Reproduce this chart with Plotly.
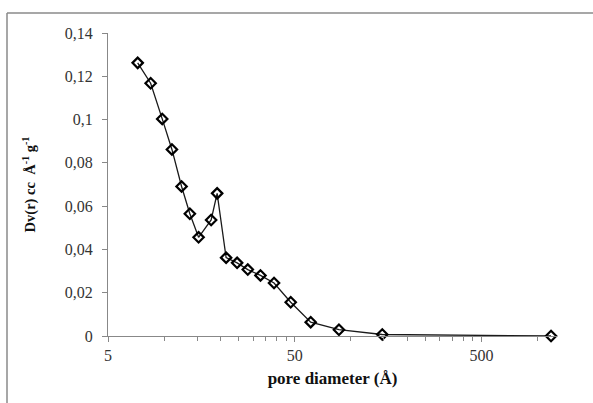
import numpy as np
import plotly.graph_objects as go

pore_diameter = [7.21, 8.46, 9.76, 11.0, 12.39, 13.72, 15.28, 17.84, 19.21, 21.46,
                 24.57, 28.03, 32.78, 38.75, 47.6, 60.9, 86.3, 147.2, 1180]
dv = [0.1262, 0.1168, 0.1003, 0.0862, 0.0691, 0.0565, 0.0456, 0.0536, 0.0659, 0.0362,
      0.0338, 0.0307, 0.0280, 0.0245, 0.0156, 0.0064, 0.0029, 0.0007, 0.0]

y_tickvals = [0, 0.02, 0.04, 0.06, 0.08, 0.1, 0.12, 0.14]
y_ticktext = ["0", "0,02", "0,04", "0,06", "0,08", "0,1", "0,12", "0,14"]
x_tickvals = [5, 50, 500]
x_ticktext = ["5", "50", "500"]
x_minor = [5 * k * 10 ** n for n in range(0, 3) for k in range(2, 10)]

W, H = 593, 403
ML, MR, MT, MB = 108, 36, 33, 67
SERIF = "Liberation Serif"

fig = go.Figure()
fig.add_trace(go.Scatter(
    x=pore_diameter, y=dv, mode="lines+markers",
    line=dict(color="#1a1a1a", width=1.3),
    marker=dict(symbol="diamond-open", size=8, color="black", line=dict(width=2.2, color="black")),
    showlegend=False, cliponaxis=False,
))

fig.update_layout(
    width=W, height=H,
    margin=dict(l=ML, r=MR, t=MT, b=MB, autoexpand=False),
    paper_bgcolor="white", plot_bgcolor="white",
    font=dict(family=SERIF, size=16, color="#222"),
    xaxis=dict(
        type="log", range=[np.log10(5), np.log10(1270)], automargin=False,
        tickmode="array", tickvals=x_tickvals, ticktext=x_ticktext,
        ticks="outside", ticklen=5, tickcolor="#888", tickwidth=1,
        minor=dict(tickmode="array", tickvals=x_minor, ticks="outside", ticklen=4,
                   tickcolor="#888", tickwidth=1, showgrid=False),
        showline=True, linecolor="#888", linewidth=1.3, showgrid=False, zeroline=False,
        title=dict(text="<b>pore diameter (Å)</b>", font=dict(family=SERIF, size=17, color="#111"), standoff=8),
        tickfont=dict(family=SERIF, size=16, color="#333"),
    ),
    yaxis=dict(
        range=[0, 0.14], automargin=False,
        tickmode="array", tickvals=y_tickvals, ticktext=y_ticktext,
        ticks="outside", ticklen=5, tickcolor="#888", tickwidth=1, ticklabelstandoff=6,
        showline=True, linecolor="#888", linewidth=1.3, showgrid=False, zeroline=False,
        title=dict(text="<b>Dv(r) cc  Å<sup>-1</sup> g<sup>-1</sup></b>", font=dict(family=SERIF, size=14.5, color="#111"), standoff=25),
        tickfont=dict(family=SERIF, size=16, color="#333"),
    ),
)

# outer chart border (top and left edges visible)
pw = W - ML - MR
ph = H - MT - MB
def px_x(px):
    return (px - ML) / pw
def px_y(py):
    return (H - MB - py) / ph
fig.add_shape(type="line", xref="paper", yref="paper",
              x0=px_x(7), y0=px_y(13), x1=px_x(593), y1=px_y(13),
              line=dict(color="#8a8a8a", width=1.5))
fig.add_shape(type="line", xref="paper", yref="paper",
              x0=px_x(7), y0=px_y(13), x1=px_x(7), y1=px_y(403),
              line=dict(color="#8a8a8a", width=1.5))

fig.write_html("out.html", config={"displayModeBar": False},
               post_script="document.body.style.margin='0px';document.body.style.overflow='hidden';")
